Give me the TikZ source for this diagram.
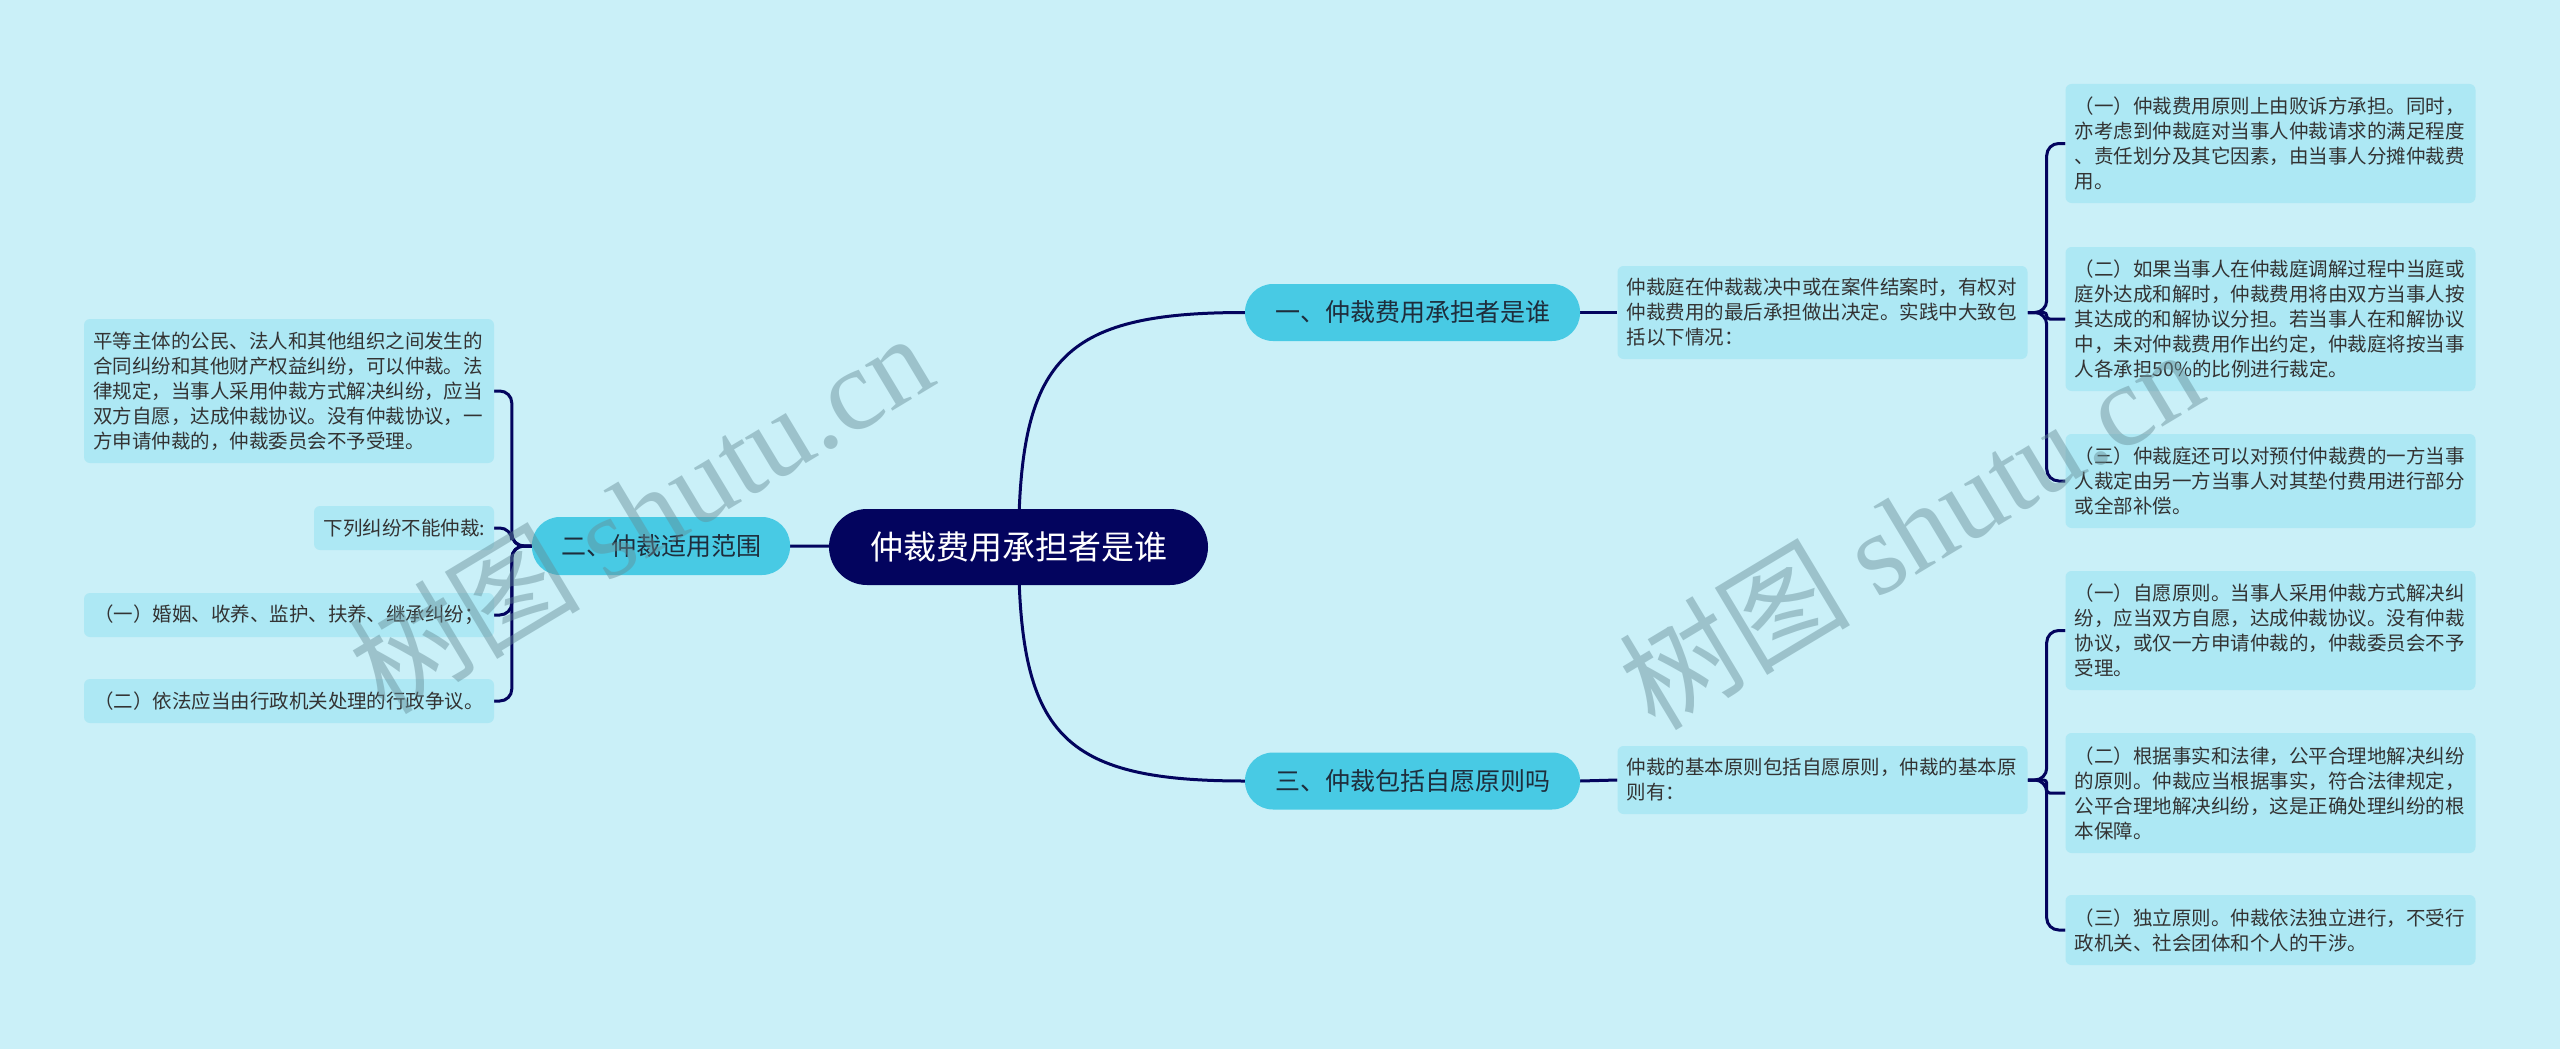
\documentclass[tikz,border=0pt]{standalone}
\usepackage{fontspec}
\setmainfont{Noto Sans CJK SC}
\newfontfamily\wmserif{Liberation Serif}
\usetikzlibrary{backgrounds}
\definecolor{bgc}{HTML}{CAF0F8}
\definecolor{leafc}{HTML}{ADE8F4}
\definecolor{branchc}{HTML}{48CAE4}
\definecolor{rootc}{HTML}{03045E}
\definecolor{linec}{HTML}{03045E}
\definecolor{txtc}{HTML}{333333}
\definecolor{btxt}{HTML}{1E2D3C}
\definecolor{wmc}{RGB}{100,140,150}
\tikzset{
  leaf/.style={fill=leafc, rounded corners=6pt, text width=392pt, inner xsep=9pt, inner ysep=0pt,
    align=left, font=\fontsize{19.5}{25}\selectfont, text=txtc},
  branch/.style={fill=branchc, rounded corners=28pt, minimum width=335pt, minimum height=57pt,
    font=\fontsize{25}{30}\selectfont, text=btxt, inner sep=0pt},
  rootnode/.style={fill=rootc, rounded corners=38pt, minimum width=379pt, minimum height=76pt,
    font=\fontsize{33}{40}\selectfont, text=white, inner sep=0pt},
  conn/.style={draw=linec, line width=3pt},
  brk/.style={draw=linec, line width=3pt, rounded corners=12pt},
  brkmid/.style={draw=linec, line width=3pt, rounded corners=3pt},
  wm/.style={text=wmc, opacity=0.45, rotate=31, inner sep=0pt, font=\fontsize{116}{120}\selectfont}
}
\begin{document}
\begin{tikzpicture}[x=1pt, y=-1pt]
\useasboundingbox (0,0) rectangle (2560,1049);

% root and branches
\node[rootnode] (root) at (1018.5,547) {仲裁费用承担者是谁};
\node[branch] (b1) at (1412.5,312.5) {一、仲裁费用承担者是谁};
\node[branch] (b3) at (1412.5,781) {三、仲裁包括自愿原则吗};
\node[branch, minimum width=258pt, minimum height=58pt] (b2) at (661,546) {二、仲裁适用范围};

% branch 1
\node[leaf, minimum height=93pt] (t1) at (1822.5,312.5) {仲裁庭在仲裁裁决中或在案件结案时，有权对\\仲裁费用的最后承担做出决定。实践中大致包\\括以下情况：};
\node[leaf, minimum height=119pt] (a1) at (2270.5,143.5) {（一）仲裁费用原则上由败诉方承担。同时，\\亦考虑到仲裁庭对当事人仲裁请求的满足程度\\、责任划分及其它因素，由当事人分摊仲裁费\\用。};
\node[leaf, minimum height=144pt] (a2) at (2270.5,319) {（二）如果当事人在仲裁庭调解过程中当庭或\\庭外达成和解时，仲裁费用将由双方当事人按\\其达成的和解协议分担。若当事人在和解协议\\中，未对仲裁费用作出约定，仲裁庭将按当事\\人各承担50\%的比例进行裁定。};
\node[leaf, minimum height=94pt] (a3) at (2270.5,481) {（三）仲裁庭还可以对预付仲裁费的一方当事\\人裁定由另一方当事人对其垫付费用进行部分\\或全部补偿。};

% branch 3
\node[leaf, minimum height=68pt] (t3) at (1822.5,780) {仲裁的基本原则包括自愿原则，仲裁的基本原\\则有：};
\node[leaf, minimum height=119pt] (c1) at (2270.5,630.5) {（一）自愿原则。当事人采用仲裁方式解决纠\\纷，应当双方自愿，达成仲裁协议。没有仲裁\\协议，或仅一方申请仲裁的，仲裁委员会不予\\受理。};
\node[leaf, minimum height=120pt] (c2) at (2270.5,793) {（二）根据事实和法律，公平合理地解决纠纷\\的原则。仲裁应当根据事实，符合法律规定，\\公平合理地解决纠纷，这是正确处理纠纷的根\\本保障。};
\node[leaf, minimum height=70pt] (c3) at (2270.5,930) {（三）独立原则。仲裁依法独立进行，不受行\\政机关、社会团体和个人的干涉。};

% branch 2
\node[leaf, minimum height=144pt] (l1) at (289,391) {平等主体的公民、法人和其他组织之间发生的\\合同纠纷和其他财产权益纠纷，可以仲裁。法\\律规定，当事人采用仲裁方式解决纠纷，应当\\双方自愿，达成仲裁协议。没有仲裁协议，一\\方申请仲裁的，仲裁委员会不予受理。};
\node[leaf, text width=162pt, align=right, minimum height=44pt] (l2) at (404,528) {下列纠纷不能仲裁:};
\node[leaf, align=center, minimum height=44pt] (l3) at (289,615) {（一）婚姻、收养、监护、扶养、继承纠纷；};
\node[leaf, align=center, minimum height=44pt] (l4) at (289,701) {（二）依法应当由行政机关处理的行政争议。};

% watermarks
\node[wm] (w1) at (640,512) {树图 {\wmserif shutu.cn}};
\node[wm] (w2) at (1910,528) {树图 {\wmserif shutu.cn}};

\begin{pgfonlayer}{background}
\fill[bgc] (0,0) rectangle (2560,1049);
\draw[conn] (root.center) .. controls (1019,360) and (1060,312.5) .. (b1.west);
\draw[conn] (root.center) .. controls (1019,734) and (1060,781) .. (b3.west);
\draw[conn] (root.center) -- (b2.east);
\draw[conn] (b1.east) -- (t1.west);
\draw[conn] (b3.east) -- (t3.west);
\draw[brk] (t1.east) -- ++(19,0) |- (a1.west);
\draw[brkmid] (t1.east) -- ++(19,0) |- (a2.west);
\draw[brk] (t1.east) -- ++(19,0) |- (a3.west);
\draw[brk] (t3.east) -- ++(19,0) |- (c1.west);
\draw[brkmid] (t3.east) -- ++(19,0) |- (c2.west);
\draw[brk] (t3.east) -- ++(19,0) |- (c3.west);
\draw[brk] (b2.west) -- ++(-20,0) |- (l1.east);
\draw[brk] (b2.west) -- ++(-20,0) |- (l2.east);
\draw[brk] (b2.west) -- ++(-20,0) |- (l3.east);
\draw[brk] (b2.west) -- ++(-20,0) |- (l4.east);
\end{pgfonlayer}
\end{tikzpicture}
\end{document}
